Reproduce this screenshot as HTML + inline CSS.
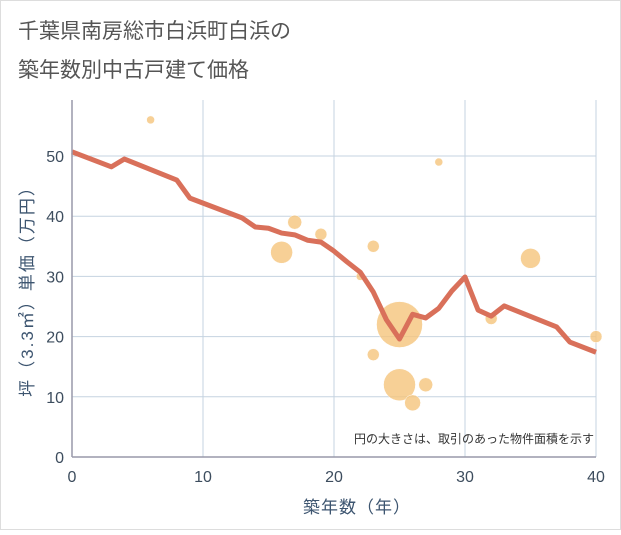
<!DOCTYPE html>
<html><head><meta charset="utf-8"><style>
body{margin:0;background:#fff}
svg text{font-family:"Liberation Sans","Noto Sans CJK JP",sans-serif}
</style></head><body>
<svg id="c" width="621" height="530" viewBox="0 0 621 530">
<rect x="0.5" y="0.5" width="620" height="529" fill="#fff" stroke="#ddd"/>
<text x="18" y="38" font-size="21" fill="#555">千葉県南房総市白浜町白浜の</text>
<text x="18" y="77" font-size="21" fill="#555">築年数別中古戸建て価格</text>
<g id="grid"></g><g id="bub"></g><g id="ln"></g><g id="ax"></g>
<text x="594" y="443" font-size="12" fill="#333" text-anchor="end">円の大きさは、取引のあった物件面積を示す</text>
<text x="357" y="513" font-size="17" fill="#3d5570" text-anchor="middle" letter-spacing="1">築年数（年）</text>
<text transform="translate(33,287) rotate(-90)" font-size="17" fill="#3d5570" text-anchor="middle" letter-spacing="2">坪（3.3㎡）単価（万円）</text>
</svg>
<script>
const xTicks=[0,10,20,30,40];
const yTicks=[0,10,20,30,40,50];
const lineX=[0,3,4,8,9,13,14,15,16,17,18,19,20,21,22,23,24,25,26,27,28,29,30,31,32,33,37,38,40];
const lineY=[50.7,48.2,49.5,46,43,39.7,38.2,38,37.2,36.9,36,35.7,34.2,32.4,30.7,27.4,22.8,19.6,23.7,23.1,24.7,27.6,29.9,24.4,23.4,25.1,21.6,19.1,17.4];
const bubX=[6,16,17,19,22,23,23,25,25,26,27,28,32,35,40];
const bubY=[56,34,39,37,30,35,17,22,12,9,12,49,23,33,20];
const bubR=[4,11,7,6,4,6,6,23,16,8,7,4,6,10,6];
const NS='http://www.w3.org/2000/svg';
const X0=72,X1=596,Y0=457,YT=100;
const sx=v=>X0+(X1-X0)*v/40, sy=v=>Y0-v*6.02;
function mk(t,a,p){const e=document.createElementNS(NS,t);for(const k in a)e.setAttribute(k,a[k]);p.appendChild(e);return e;}
const g=document.getElementById('grid'),ax=document.getElementById('ax');
xTicks.forEach(v=>{const l=mk('line',{x1:sx(v),x2:sx(v),y1:YT,y2:Y0,stroke:'#c5d3e0'},g);


const t=mk('text',{x:sx(v),y:482,'font-size':16,fill:'#3d4d5e','text-anchor':'middle'},ax);t.textContent=v;

});
yTicks.forEach(v=>{const l=mk('line',{x1:X0,x2:X1,y1:sy(v),y2:sy(v),stroke:'#c5d3e0'},g);


const t=mk('text',{x:64,y:sy(v)+6,'font-size':16,fill:'#3d4d5e','text-anchor':'end'},ax);t.textContent=v;

});
const a1=mk('line',{x1:X0,x2:X0,y1:YT,y2:Y0,stroke:'#99a',"stroke-width":1.5},ax);


const a2=mk('line',{x1:X0,x2:X1,y1:Y0,y2:Y0,stroke:'#99a',"stroke-width":1.5},ax);


const b=document.getElementById('bub');
bubX.forEach((v,i)=>{const c=mk('circle',{cx:sx(v),cy:sy(bubY[i]),r:bubR[i],fill:'#f5c47c','fill-opacity':0.8,stroke:'#fff','stroke-width':0.5},b);

});
const p=mk('polyline',{points:lineX.map((v,i)=>sx(v)+','+sy(lineY[i])).join(' '),fill:'none',stroke:'#d9705a','stroke-width':5,'stroke-linejoin':'round'},document.getElementById('ln'));


</script>
</body></html>
